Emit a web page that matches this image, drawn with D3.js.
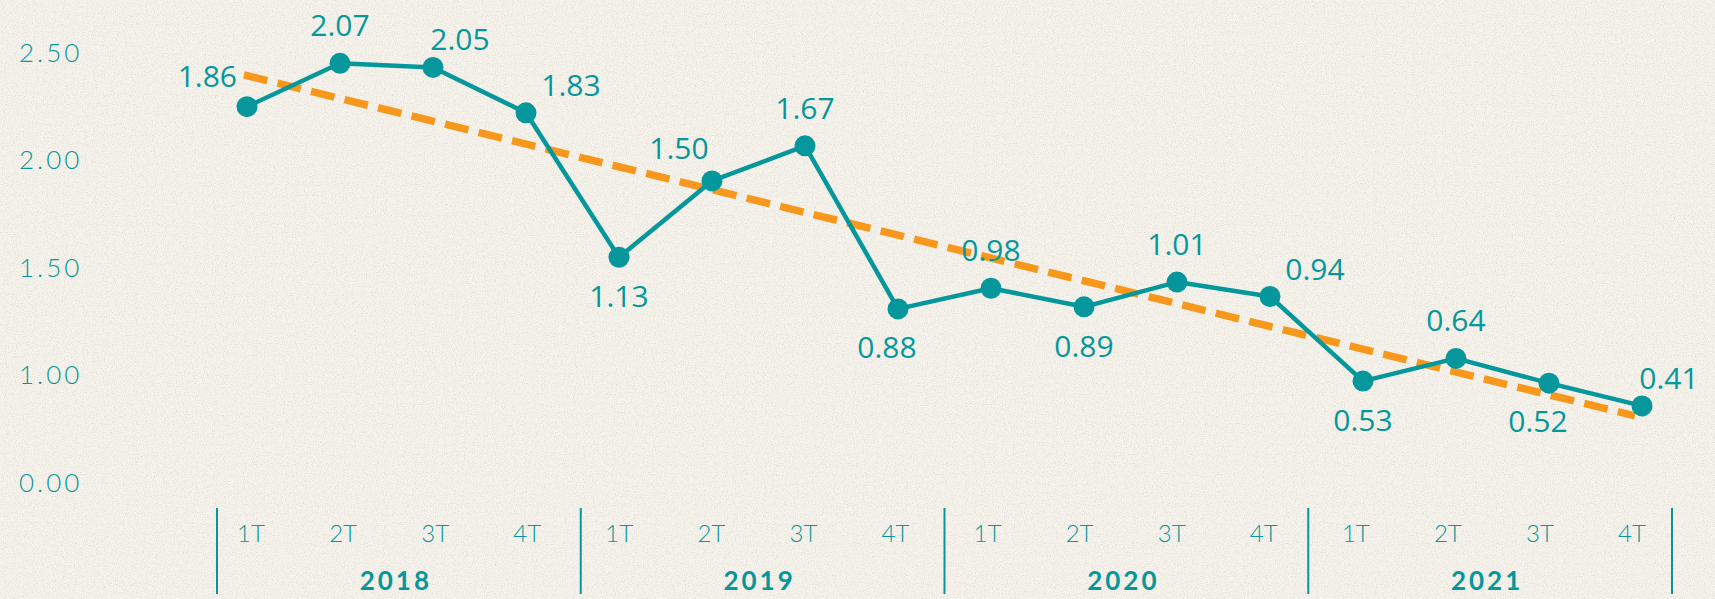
<!DOCTYPE html>
<html>
<head>
<meta charset="utf-8">
<script src="https://cdn.jsdelivr.net/npm/d3@7"></script>
<style>
  html, body { margin: 0; padding: 0; background: #f5f2eb; }
  svg { display: block; }
</style>
</head>
<body>
<svg id="chart" width="1715" height="599"></svg>
<script>
// ---- data ----
const years = ["2018", "2019", "2020", "2021"];
const quarters = ["1T", "2T", "3T", "4T"];
const values = [1.86, 2.07, 2.05, 1.83, 1.13, 1.50, 1.67, 0.88, 0.98, 0.89, 1.01, 0.94, 0.53, 0.64, 0.52, 0.41];
const yTickLabels = ["2.50", "2.00", "1.50", "1.00", "0.00"];
// label placement keyword per point
const labelPlace = ["left", "above", "aboveRight", "right", "below", "aboveLeft", "above", "belowLeft",
                    "above", "below", "above", "right", "below", "above", "belowLeft", "aboveRight"];

// ---- layout ----
const W = 1715, H = 599;
const teal = "#05979b";
const orange = "#f7981d";
const svg = d3.select("#chart");

// paper texture background
const defs = svg.append("defs");
const f = defs.append("filter").attr("id", "paper").attr("x", 0).attr("y", 0).attr("width", "100%").attr("height", "100%");
f.append("feTurbulence").attr("type", "fractalNoise").attr("baseFrequency", 0.9).attr("numOctaves", 2).attr("seed", 7).attr("result", "n");
f.append("feColorMatrix").attr("in", "n").attr("type", "matrix")
  .attr("values", "0 0 0 0 0.45  0 0 0 0 0.42  0 0 0 0 0.36  0 0 0 -2.4 1.3");
svg.append("rect").attr("width", W).attr("height", H).attr("fill", "#f6f3ec");
svg.append("rect").attr("width", W).attr("height", H).attr("filter", "url(#paper)").attr("opacity", 0.3);

const idx = d3.range(values.length);
const x = d3.scalePoint().domain(idx).range([247, 1642]);
const y = d3.scaleLinear().domain([0, 2.07]).range([490.5, 63.3]);
const xLab = d3.scalePoint().domain(idx).range([251, 1632]);
const xYear = d3.scaleBand().domain(years).range([217, 1672]);
const yTick = d3.scalePoint().domain(yTickLabels).range([51.7, 481.7]);

// y tick labels
svg.append("g").selectAll("text").data(yTickLabels).join("text")
  .attr("x", 19).attr("y", d => yTick(d))
  .attr("dominant-baseline", "central")
  .attr("fill", teal)
  .attr("font-family", "Lato, 'Open Sans', sans-serif")
  .attr("font-weight", 300)
  .attr("font-size", 26)
  .attr("letter-spacing", 3)
  .text(d => d);

// trend line (least squares fit of the series)
const n = values.length;
const mx = d3.mean(idx), my = d3.mean(values);
const slope = d3.sum(idx, i => (i - mx) * (values[i] - my)) / d3.sum(idx, i => (i - mx) * (i - mx));
const icpt = my - slope * mx;
svg.append("line")
  .attr("x1", x(0) - 3).attr("y1", y(icpt - slope * 0.03))
  .attr("x2", x(n - 1) - 7).attr("y2", y(icpt + slope * (n - 1 - 0.075)))
  .attr("stroke", orange).attr("stroke-width", 7.5)
  .attr("stroke-dasharray", "24,10.5");

// main line
svg.append("path").datum(idx)
  .attr("fill", "none").attr("stroke", teal).attr("stroke-width", 4.5)
  .attr("stroke-linejoin", "round")
  .attr("d", d3.line().x(i => x(i)).y(i => y(values[i])));

svg.append("g").selectAll("circle").data(idx).join("circle")
  .attr("cx", i => x(i)).attr("cy", i => y(values[i])).attr("r", 10.5)
  .attr("fill", teal);

// value labels
const place = {
  left:       { dx: -10, dy: -31, anchor: "end" },
  above:      { dx: 0,   dy: -38, anchor: "middle" },
  below:      { dx: 0,   dy: 39,  anchor: "middle" },
  aboveRight: { dx: 27,  dy: -28, anchor: "middle" },
  right:      { dx: 45,  dy: -28, anchor: "middle" },
  aboveLeft:  { dx: -33, dy: -33, anchor: "middle" },
  belowLeft:  { dx: -11, dy: 38,  anchor: "middle" }
};
svg.append("g").selectAll("text").data(idx).join("text")
  .attr("x", i => x(i) + place[labelPlace[i]].dx)
  .attr("y", i => y(values[i]) + place[labelPlace[i]].dy + 11)
  .attr("text-anchor", i => place[labelPlace[i]].anchor)
  .attr("fill", teal)
  .attr("font-family", "'Open Sans', sans-serif")
  .attr("font-size", 30)
  .text(i => values[i].toFixed(2));

// x axis: quarter labels
svg.append("g").selectAll("text").data(idx).join("text")
  .attr("x", i => xLab(i)).attr("y", 532)
  .attr("text-anchor", "middle").attr("dominant-baseline", "central")
  .attr("fill", teal)
  .attr("font-family", "Lato, 'Open Sans', sans-serif")
  .attr("font-weight", 300)
  .attr("font-size", 24)
  .text(i => quarters[i % 4]);

// year labels
svg.append("g").selectAll("text").data(years).join("text")
  .attr("x", d => xYear(d) + xYear.bandwidth() / 2 - 3).attr("y", 580)
  .attr("text-anchor", "middle").attr("dominant-baseline", "central")
  .attr("fill", teal)
  .attr("font-family", "Lato, 'Open Sans', sans-serif")
  .attr("font-weight", 700)
  .attr("font-size", 26)
  .attr("letter-spacing", 3)
  .text(d => d);

// separators
const seps = years.map(d => xYear(d)).concat([xYear.range()[1]]);
svg.append("g").selectAll("line").data(seps).join("line")
  .attr("x1", d => d).attr("x2", d => d)
  .attr("y1", 508).attr("y2", 594)
  .attr("stroke", teal).attr("stroke-width", 2);
</script>
</body>
</html>
